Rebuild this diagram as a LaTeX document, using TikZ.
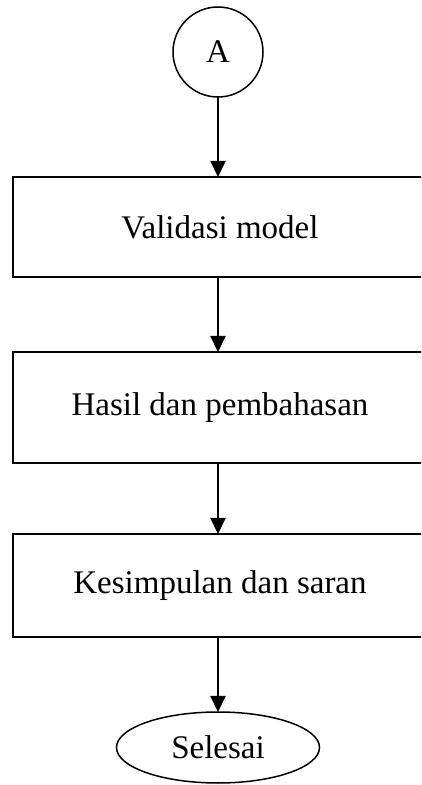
\documentclass[tikz,border=0pt]{standalone}
\usepackage{fontspec}
\setmainfont{Liberation Serif}
\usetikzlibrary{shapes.geometric,arrows.meta}
\begin{document}
\begin{tikzpicture}[x=1pt,y=1pt,
  font=\fontsize{33}{39}\selectfont,
  procbox/.style={draw=black,line width=2.3pt,minimum width=414pt,inner sep=0pt,outer sep=0pt},
  conn/.style={line width=2.2pt,-{Triangle[width=15pt,length=16pt]}}]
\useasboundingbox (0,0) rectangle (421,785);
\clip (0,0) rectangle (421,785);
\node[circle,draw=black,line width=1.5pt,minimum size=90pt,inner sep=0pt,outer sep=0pt] (A) at (218,733) {A};
\node[procbox,minimum height=100pt] (b1) at (220,558) {Validasi model};
\node[procbox,minimum height=111pt] (b2) at (220,377.5) {Hasil dan pembahasan};
\node[procbox,minimum height=103pt] (b3) at (220,199.5) {Kesimpulan dan saran};
\node[ellipse,draw=black,line width=1.5pt,minimum width=203pt,minimum height=71pt,inner sep=0pt,outer sep=0pt] (end) at (218,37.5) {Selesai};
\draw[conn] (A.south) -- (A.south |- b1.north);
\draw[conn] (A.south |- b1.south) -- (A.south |- b2.north);
\draw[conn] (A.south |- b2.south) -- (A.south |- b3.north);
\draw[conn] (A.south |- b3.south) -- (end.north);
\end{tikzpicture}
\end{document}
